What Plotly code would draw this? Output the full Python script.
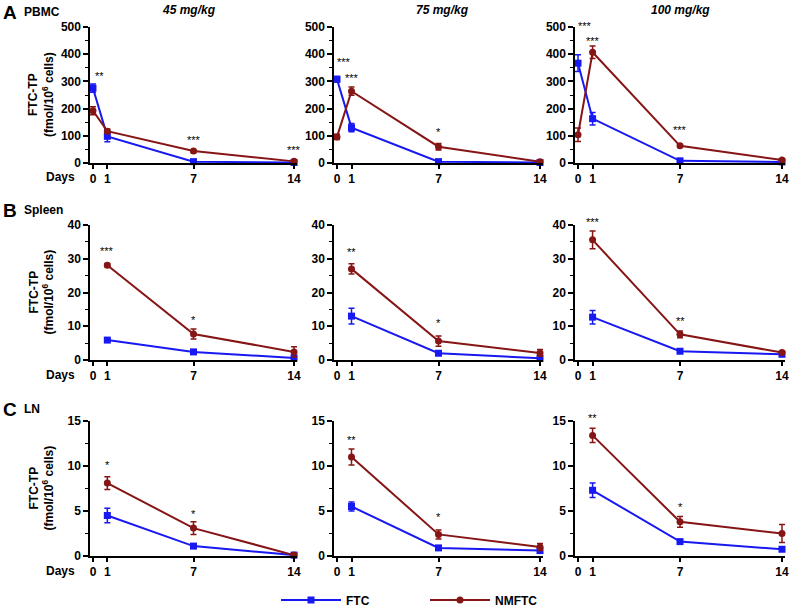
import plotly.graph_objects as go

# ---------------- data ----------------
days_pbmc = [0, 1, 7, 14]
days_tissue = [1, 7, 14]
tick_days = [0, 1, 7, 14]
doses = ["45 mg/kg", "75 mg/kg", "100 mg/kg"]
tissues = ["PBMC", "Spleen", "LN"]
panel_letters = ["A", "B", "C"]

# PBMC (fmol/10^6 cells)
ftc_pbmc_45 = [275, 98, 5, 2]
ftc_pbmc_45_err = [15, 20, 3, 1]
nm_pbmc_45 = [192, 117, 44, 6]
nm_pbmc_45_err = [15, 8, 5, 2]
ftc_pbmc_75 = [308, 130, 5, 2]
ftc_pbmc_75_err = [10, 15, 3, 1]
nm_pbmc_75 = [96, 264, 60, 5]
nm_pbmc_75_err = [10, 15, 12, 2]
ftc_pbmc_100 = [367, 163, 8, 4]
ftc_pbmc_100_err = [31, 23, 3, 2]
nm_pbmc_100 = [104, 407, 63, 11]
nm_pbmc_100_err = [25, 23, 5, 3]

# Spleen
ftc_spleen_45 = [5.9, 2.4, 0.6]
ftc_spleen_45_err = [0.5, 0.4, 0.2]
nm_spleen_45 = [28.1, 7.7, 2.4]
nm_spleen_45_err = [0.5, 1.5, 1.5]
ftc_spleen_75 = [13.0, 2.0, 0.5]
ftc_spleen_75_err = [2.3, 0.4, 0.2]
nm_spleen_75 = [27.0, 5.6, 2.1]
nm_spleen_75_err = [1.5, 1.5, 1.0]
ftc_spleen_100 = [12.7, 2.6, 1.7]
ftc_spleen_100_err = [2.0, 0.4, 0.3]
nm_spleen_100 = [35.6, 7.6, 2.2]
nm_spleen_100_err = [2.6, 1.0, 0.4]

# LN
ftc_ln_45 = [4.5, 1.1, 0.1]
ftc_ln_45_err = [0.8, 0.2, 0.05]
nm_ln_45 = [8.1, 3.1, 0.1]
nm_ln_45_err = [0.7, 0.7, 0.1]
ftc_ln_75 = [5.5, 0.9, 0.6]
ftc_ln_75_err = [0.5, 0.2, 0.1]
nm_ln_75 = [11.0, 2.4, 1.0]
nm_ln_75_err = [0.9, 0.5, 0.4]
ftc_ln_100 = [7.3, 1.6, 0.75]
ftc_ln_100_err = [0.8, 0.2, 0.1]
nm_ln_100 = [13.4, 3.8, 2.5]
nm_ln_100_err = [0.8, 0.6, 1.0]

# significance marks: days, labels, y positions
stars_pbmc_45 = ([0, 7, 14], ["**", "***", "***"], [320, 85, 48])
stars_pbmc_75 = ([0, 1, 7], ["***", "***", "*"], [370, 311, 115])
stars_pbmc_100 = ([0, 1, 7], ["***", "***", "***"], [505, 448, 122])
stars_spleen_45 = ([1, 7], ["***", "*"], [32.3, 11.8])
stars_spleen_75 = ([1, 7], ["**", "*"], [32, 11])
stars_spleen_100 = ([1, 7], ["***", "**"], [41, 11.5])
stars_ln_45 = ([1, 7], ["*", "*"], [10.1, 4.7])
stars_ln_75 = ([1, 7], ["**", "*"], [12.9, 4.3])
stars_ln_100 = ([1, 7], ["**", "*"], [15.3, 5.4])

y_ranges = [[0, 500], [0, 40], [0, 15]]
y_dticks = [100, 10, 5]
y_minor = [50, 5, 2.5]

panels = [
    [(days_pbmc, ftc_pbmc_45, ftc_pbmc_45_err, nm_pbmc_45, nm_pbmc_45_err, stars_pbmc_45),
     (days_pbmc, ftc_pbmc_75, ftc_pbmc_75_err, nm_pbmc_75, nm_pbmc_75_err, stars_pbmc_75),
     (days_pbmc, ftc_pbmc_100, ftc_pbmc_100_err, nm_pbmc_100, nm_pbmc_100_err, stars_pbmc_100)],
    [(days_tissue, ftc_spleen_45, ftc_spleen_45_err, nm_spleen_45, nm_spleen_45_err, stars_spleen_45),
     (days_tissue, ftc_spleen_75, ftc_spleen_75_err, nm_spleen_75, nm_spleen_75_err, stars_spleen_75),
     (days_tissue, ftc_spleen_100, ftc_spleen_100_err, nm_spleen_100, nm_spleen_100_err, stars_spleen_100)],
    [(days_tissue, ftc_ln_45, ftc_ln_45_err, nm_ln_45, nm_ln_45_err, stars_ln_45),
     (days_tissue, ftc_ln_75, ftc_ln_75_err, nm_ln_75, nm_ln_75_err, stars_ln_75),
     (days_tissue, ftc_ln_100, ftc_ln_100_err, nm_ln_100, nm_ln_100_err, stars_ln_100)],
]

# ---------------- layout geometry (pixels) ----------------
W, H = 790, 612
col_px = [(90.1, 296.9), (334.1, 542.9), (575.1, 784.9)]
row_px = [(27, 163), (225, 360), (421, 556)]
row_tick_y = [177, 375, 571]
row_label_y = [12, 210, 409]
col_title_x = [189, 442, 680]

BLUE = "#1818f2"
RED = "#861515"
FONT = "Liberation Sans, Arial, sans-serif"

fig = go.Figure()
layout = dict(
    template="none",
    width=W, height=H, margin=dict(l=0, r=0, t=0, b=0, pad=0, autoexpand=False),
    paper_bgcolor="white", plot_bgcolor="white",
    font=dict(family=FONT, color="black", size=12),
    showlegend=True,
)
annotations = []

for r in range(3):
    ymin, ymax = y_ranges[r]
    row_h = row_px[r][1] - row_px[r][0]
    for c in range(3):
        idx = r * 3 + c + 1
        sfx = "" if idx == 1 else str(idx)
        days, ftc, ftc_e, nm, nm_e, stars = panels[r][c]
        x0, x1 = col_px[c]
        yt, yb = row_px[r]
        layout["xaxis" + sfx] = dict(
            domain=[x0 / W, x1 / W], anchor="y" + sfx, range=[-0.2, 14.2],
            tickvals=tick_days, ticks="outside", ticklen=4, tickwidth=1.5, tickcolor="black",
            showline=True, linecolor="black", linewidth=1.5, showgrid=False,
            zeroline=False, tickfont=dict(family=FONT, size=12, weight="bold"),
            fixedrange=True, automargin=False,
        )
        layout["yaxis" + sfx] = dict(
            domain=[1 - yb / H, 1 - yt / H], anchor="x" + sfx, range=y_ranges[r],
            dtick=y_dticks[r], tick0=0, ticks="outside", ticklen=5, tickwidth=1.5, tickcolor="black",
            minor=dict(dtick=y_minor[r], ticks="outside", ticklen=3, tickwidth=1, tickcolor="black"),
            showline=True, linecolor="black", linewidth=1.5, showgrid=False,
            zeroline=False, tickfont=dict(family=FONT, size=12, weight="bold"),
            fixedrange=True, automargin=False,
        )
        fig.add_trace(go.Scatter(
            x=days, y=ftc, mode="lines+markers", name="FTC",
            line=dict(color=BLUE, width=2), marker=dict(symbol="square", size=7, color=BLUE),
            error_y=dict(type="data", array=ftc_e, color=BLUE, thickness=1.5, width=3),
            xaxis="x" + sfx, yaxis="y" + sfx, cliponaxis=False,
            showlegend=(idx == 1), legendrank=1,
        ))
        fig.add_trace(go.Scatter(
            x=days, y=nm, mode="lines+markers", name="NMFTC",
            line=dict(color=RED, width=2), marker=dict(symbol="circle", size=7, color=RED),
            error_y=dict(type="data", array=nm_e, color=RED, thickness=1.5, width=3),
            xaxis="x" + sfx, yaxis="y" + sfx, cliponaxis=False,
            showlegend=(idx == 1), legendrank=2,
        ))
        s_days, s_txt, s_y = stars
        for d, txt, yv in zip(s_days, s_txt, s_y):
            # marks above the axis top are anchored at the top and lifted
            extra = max(0.0, yv - ymax) / (ymax - ymin) * row_h
            annotations.append(dict(
                x=d, y=min(yv, ymax), xref="x" + sfx, yref="y" + sfx, text=txt,
                showarrow=False, font=dict(family=FONT, size=11, color="black"),
                xanchor="center", yanchor="middle", yshift=extra,
                xshift=7 if d == 0 else 0,
            ))
    # row title, letter, y-axis title, "Days"
    annotations.append(dict(x=1 / W, y=1 - row_label_y[r] / H, xref="paper", yref="paper",
                            text=panel_letters[r], showarrow=False, xanchor="left", yanchor="middle",
                            font=dict(family=FONT, size=19, weight="bold")))
    annotations.append(dict(x=22 / W, y=1 - row_label_y[r] / H, xref="paper", yref="paper",
                            text=tissues[r], showarrow=False, xanchor="left", yanchor="middle",
                            font=dict(family=FONT, size=12, weight="bold")))
    annotations.append(dict(x=41 / W, y=1 - (row_px[r][0] + row_px[r][1]) / 2 / H,
                            xref="paper", yref="paper",
                            text="FTC-TP<br>(fmol/10<sup>6</sup> cells)", showarrow=False,
                            textangle=-90, xanchor="center", yanchor="middle",
                            font=dict(family=FONT, size=12, weight="bold")))
    annotations.append(dict(x=60 / W, y=1 - row_tick_y[r] / H, xref="paper", yref="paper",
                            text="Days", showarrow=False, xanchor="center", yanchor="middle",
                            font=dict(family=FONT, size=12, weight="bold")))

for c in range(3):
    annotations.append(dict(x=col_title_x[c] / W, y=1 - 10 / H, xref="paper", yref="paper",
                            text=doses[c], showarrow=False, xanchor="center", yanchor="middle",
                            font=dict(family=FONT, size=12, weight="bold", style="italic")))

layout["annotations"] = annotations
layout["legend"] = dict(orientation="h", x=276 / W, xanchor="left", y=1 - 600 / H,
                        yanchor="middle", font=dict(family=FONT, size=12, weight="bold"),
                        entrywidth=74, itemwidth=60, bgcolor="rgba(0,0,0,0)")
fig.update_layout(**layout)
fig.write_html("out.html", config={"displayModeBar": False},
               post_script="document.body.style.margin='0';")
